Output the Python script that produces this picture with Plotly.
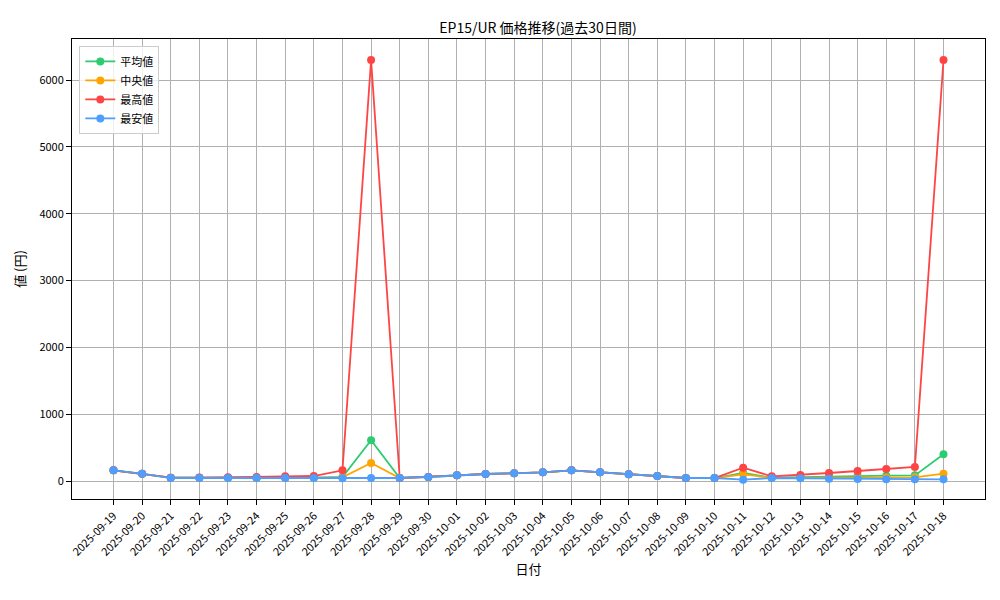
import plotly.graph_objects as go
import pandas as pd

dates = [d.strftime("%Y-%m-%d") for d in pd.date_range("2025-09-19", "2025-10-18")]
avg = [160,110,50,50,50,45,48,50,60,610,45,60,85,105,115,130,160,130,100,75,45,45,120,50,60,70,75,80,85,400]
med = [160,110,50,50,50,45,45,48,55,270,45,60,85,105,115,130,160,130,100,75,45,45,100,48,50,50,50,50,55,110]
mx  = [160,110,50,52,55,60,70,75,160,6300,45,60,85,105,115,130,160,130,100,75,45,45,200,70,90,120,150,180,210,6300]
mn  = [160,110,45,45,45,45,45,45,40,45,45,60,85,105,115,130,160,130,100,75,45,45,20,45,40,35,30,25,25,25]

series = [("平均値", avg, "#2ecc71"), ("中央値", med, "#ffa500"), ("最高値", mx, "#ff4444"), ("最安値", mn, "#4d9eff")]
fig = go.Figure()
for name, vals, c in series:
    fig.add_trace(go.Scatter(x=list(range(len(dates))), y=vals, name=name, mode="lines+markers",
                             line=dict(color=c, width=1.8), marker=dict(color=c, size=8)))
ax = dict(showline=True, linecolor="black", mirror=True, gridcolor="#b0b0b0", ticks="outside",
          tickcolor="black", zeroline=False, showgrid=True, automargin=False, tickfont=dict(size=11))
fig.update_xaxes(**ax, tickvals=list(range(len(dates))), ticktext=dates, tickangle=-45,
                 range=[-1.45, len(dates) - 1 + 1.45], title=dict(text="日付", standoff=4))
fig.update_yaxes(**ax, range=[-269, 6615], tickvals=[0,1000,2000,3000,4000,5000,6000], title=dict(text="値 (円)", standoff=10))
fig.update_layout(width=1000, height=600, margin=dict(l=64, r=23, t=31, b=109, autoexpand=False),
                  plot_bgcolor="white", paper_bgcolor="white",
                  font=dict(family="Noto Sans CJK JP", size=11, color="black"),
                  title=dict(text="EP15/UR 価格推移(過去30日間)", x=0.53, xanchor="center", y=0.975, font=dict(size=14)),
                  legend=dict(x=0.008, y=0.985, xanchor="left", yanchor="top", bordercolor="#cccccc",
                              borderwidth=1, bgcolor="rgba(255,255,255,0.8)"))
fig.write_html("out.html")
